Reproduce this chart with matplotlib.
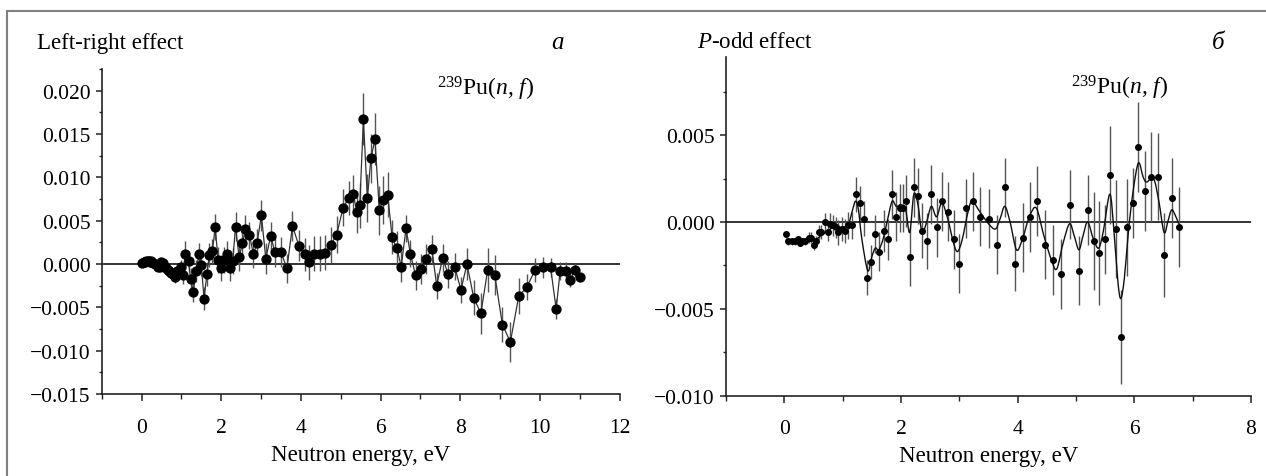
import matplotlib
matplotlib.use("Agg")
import matplotlib.pyplot as plt
from matplotlib.lines import Line2D
from matplotlib.path import Path
from matplotlib.patches import PathPatch
from matplotlib.ticker import MultipleLocator, FuncFormatter

plt.rcParams['font.family'] = ['Liberation Serif', 'DejaVu Serif']
plt.rcParams['mathtext.fontset'] = 'custom'
plt.rcParams['mathtext.rm'] = 'Liberation Serif'
plt.rcParams['mathtext.it'] = 'Liberation Serif:italic'

# ---------------- Left-right effect (panel a) ----------------
lr_E = [0.02, 0.06, 0.09, 0.12, 0.15, 0.18, 0.21, 0.25, 0.30, 0.34, 0.38, 0.42, 0.46,
        0.50, 0.53, 0.58, 0.62, 0.66, 0.70, 0.74, 0.78, 0.82, 0.85, 0.90, 0.98,
        1.03, 1.10, 1.18, 1.23, 1.30, 1.37, 1.44, 1.50, 1.57, 1.64, 1.70, 1.78, 1.85,
        1.92, 2.00, 2.07, 2.15, 2.22, 2.29, 2.36, 2.45, 2.53, 2.61, 2.71, 2.81, 2.90,
        3.01, 3.12, 3.24, 3.35, 3.50, 3.65, 3.79, 3.95, 4.10, 4.21, 4.33, 4.47, 4.61,
        4.75, 4.90, 5.06, 5.20, 5.32, 5.40, 5.48, 5.57, 5.67, 5.76, 5.86, 5.97, 6.07,
        6.18, 6.29, 6.41, 6.52, 6.64, 6.75, 6.88, 7.01, 7.14, 7.29, 7.41, 7.56, 7.70,
        7.86, 8.02, 8.17, 8.34, 8.52, 8.69, 8.87, 9.06, 9.26, 9.47, 9.67, 9.88, 10.09,
        10.27, 10.41, 10.51, 10.65, 10.76, 10.88, 11.01]
lr_A = [0.0001, 0.0002, 0.0002, 0.0003, 0.0003, 0.0003, 0.0002, 0.0003, 0.0001, 0.0000,
        -0.0001, -0.0003, -0.0004, 0.0002, 0.0001, -0.0003, -0.0005, -0.0007, -0.0008,
        -0.0010, -0.0012, -0.0011, -0.0015, -0.0008, -0.0003,
        -0.0013, 0.0012, 0.0003, -0.0017, -0.0032, -0.0008, 0.0011, -0.0001, -0.0040,
        -0.0012, 0.0010, 0.0015, 0.0043, 0.0005, -0.0005, 0.0005, 0.0012, -0.0005,
        0.0004, 0.0043, 0.0008, 0.0024, 0.0040, 0.0033, 0.0011, 0.0024, 0.0056, 0.0006,
        0.0032, 0.0014, 0.0014, -0.0005, 0.0044, 0.0021, 0.0011, 0.0002, 0.0012, 0.0012,
        0.0013, 0.0022, 0.0034, 0.0065, 0.0076, 0.0081, 0.0060, 0.0068, 0.0167, 0.0076,
        0.0122, 0.0144, 0.0062, 0.0074, 0.0080, 0.0031, 0.0018, -0.0003, 0.0041, 0.0012,
        -0.0013, -0.0006, 0.0006, 0.0017, -0.0025, 0.0007, -0.0012, -0.0003, -0.0030,
        0.0000, -0.0039, -0.0057, -0.0007, -0.0013, -0.0070, -0.0090, -0.0037, -0.0027,
        -0.0007, -0.0004, -0.0004, -0.0052, -0.0008, -0.0008, -0.0018, -0.0007, -0.0015]
lr_err = [0.0003, 0.0003, 0.0003, 0.0003, 0.0003, 0.0003, 0.0003, 0.0003, 0.0003, 0.0003,
          0.0003, 0.0003, 0.0004, 0.0004, 0.0004, 0.0004, 0.0005, 0.0005, 0.0005, 0.0006,
          0.0006, 0.0006, 0.0007, 0.0008, 0.0008,
          0.0010, 0.0014, 0.0012, 0.0012, 0.0012, 0.0013, 0.0013, 0.0013, 0.0013, 0.0013,
          0.0014, 0.0014, 0.0015, 0.0015, 0.0015, 0.0015, 0.0015, 0.0015, 0.0015, 0.0017,
          0.0016, 0.0016, 0.0017, 0.0016, 0.0016, 0.0016, 0.0018, 0.0018, 0.0017, 0.0017,
          0.0017, 0.0017, 0.0017, 0.0018, 0.0019, 0.0020, 0.0020, 0.0020, 0.0020, 0.0021,
          0.0021, 0.0021, 0.0020, 0.0022, 0.0024, 0.0026, 0.0030, 0.0028, 0.0028, 0.0030,
          0.0028, 0.0028, 0.0026, 0.0020, 0.0020, 0.0018, 0.0016, 0.0016, 0.0017, 0.0017,
          0.0017, 0.0016, 0.0015, 0.0016, 0.0016, 0.0016, 0.0015, 0.0018, 0.0020, 0.0024,
          0.0025, 0.0023, 0.0020, 0.0023, 0.0021, 0.0015, 0.0014, 0.0012, 0.0011, 0.0012,
          0.0010, 0.0010, 0.0009, 0.0008, 0.0005]

# ---------------- P-odd effect (panel b) ----------------
po_E = [0.02, 0.07, 0.13, 0.19, 0.23, 0.27, 0.31, 0.36, 0.42, 0.46, 0.50, 0.54, 0.59,
        0.63, 0.69, 0.74, 0.78, 0.83, 0.88, 0.92, 0.98, 1.04, 1.09, 1.16, 1.22, 1.29,
        1.36, 1.42, 1.49, 1.56, 1.63, 1.70, 1.77, 1.85, 1.92, 1.99, 2.03, 2.08, 2.15,
        2.22, 2.29, 2.36, 2.44, 2.52, 2.61, 2.70, 2.80, 2.90, 3.00, 3.11, 3.23, 3.36,
        3.50, 3.64, 3.79, 3.95, 4.09, 4.21, 4.33, 4.47, 4.60, 4.74, 4.89, 5.05, 5.20,
        5.30, 5.40, 5.49, 5.58, 5.68, 5.77, 5.87, 5.97, 6.07, 6.18, 6.28, 6.40, 6.51,
        6.64, 6.76]
po_A = [-0.0007, -0.0011, -0.0011, -0.0011, -0.0010, -0.0012, -0.0011, -0.0011, -0.0009,
        -0.0009, -0.0013, -0.0011, -0.0006, -0.0006, 0.0000, -0.0006, -0.0001, -0.0002,
        -0.0003, -0.0006, -0.0004, -0.0005, -0.0002, -0.0002, 0.0016, 0.0011, 0.0002,
        -0.0032, -0.0023, -0.0007, -0.0017, -0.0005, -0.0010, 0.0016, 0.0003, 0.0008,
        0.0008, 0.0012, -0.0020, 0.0020, 0.0015, -0.0005, -0.0011, 0.0016, -0.0003,
        0.0012, 0.0006, -0.0010, -0.0024, 0.0008, 0.0012, 0.0003, 0.0002, -0.0013,
        0.0020, -0.0024, -0.0009, 0.0003, 0.0012, -0.0013, -0.0022, -0.0030, 0.0010,
        -0.0028, 0.0007, -0.0011, -0.0018, -0.0010, 0.0027, -0.0004, -0.0066, -0.0003,
        0.0011, 0.0043, 0.0018, 0.0026, 0.0026, -0.0019, 0.0014, -0.0003]
po_err = [0.0002, 0.0002, 0.0002, 0.0002, 0.0002, 0.0002, 0.0002, 0.0002, 0.0003, 0.0003,
          0.0003, 0.0003, 0.0004, 0.0004, 0.0005, 0.0005, 0.0006, 0.0006, 0.0006, 0.0007,
          0.0007, 0.0007, 0.0008, 0.0008, 0.0010, 0.0010, 0.0010, 0.0010, 0.0010, 0.0011,
          0.0011, 0.0012, 0.0012, 0.0014, 0.0014, 0.0014, 0.0014, 0.0015, 0.0017, 0.0017,
          0.0016, 0.0016, 0.0016, 0.0017, 0.0017, 0.0017, 0.0017, 0.0017, 0.0017, 0.0017,
          0.0017, 0.0017, 0.0017, 0.0017, 0.0017, 0.0016, 0.0020, 0.0020, 0.0020, 0.0020,
          0.0020, 0.0020, 0.0020, 0.0020, 0.0020, 0.0028, 0.0030, 0.0020, 0.0028, 0.0028,
          0.0027, 0.0028, 0.0020, 0.0026, 0.0023, 0.0026, 0.0025, 0.0024, 0.0023, 0.0023]

# smooth fit curve of panel b, read at its knots (extrema / turning points)
fit_E = [0.55, 0.70, 0.85, 1.00, 1.10, 1.17, 1.22, 1.27, 1.33, 1.43, 1.50, 1.56, 1.62,
         1.70, 1.78, 1.85, 1.92, 2.00, 2.08, 2.15, 2.22, 2.29, 2.36, 2.44, 2.52, 2.61,
         2.70, 2.80, 2.90, 2.97, 3.05, 3.15, 3.22, 3.35, 3.50, 3.62, 3.70, 3.78, 3.87,
         3.98, 4.08, 4.20, 4.32, 4.45, 4.58, 4.67, 4.78, 4.89, 4.97, 5.05, 5.12, 5.20,
         5.30, 5.39, 5.47, 5.58, 5.65, 5.72, 5.77, 5.83, 5.90, 5.98, 6.07, 6.15, 6.21,
         6.33, 6.42, 6.51, 6.58, 6.64, 6.70, 6.76]
fit_A = [-0.0010, -0.0006, -0.0003, -0.0003, -0.0001, 0.0007, 0.0012, 0.0007, -0.0010,
         -0.0028, -0.0020, -0.0015, -0.0016, -0.0009, 0.0003, 0.0012, 0.0009, 0.0010,
         0.0007, -0.0006, 0.0016, 0.0010, -0.0006, 0.0000, 0.0009, 0.0003, 0.0011,
         0.0002, -0.0012, -0.0017, -0.0010, 0.0006, 0.0012, 0.0006, -0.0001, -0.0004,
         0.0002, 0.0009, 0.0000, -0.0016, -0.0010, 0.0003, 0.0008, -0.0008, -0.0022,
         -0.0027, -0.0012, -0.0001, -0.0008, -0.0016, -0.0008, 0.0000, -0.0010, -0.0015,
         -0.0005, 0.0016, -0.0005, -0.0035, -0.0044, -0.0032, -0.0005, 0.0018, 0.0034,
         0.0026, 0.0023, 0.0025, 0.0012, -0.0006, 0.0001, 0.0007, 0.0004, -0.0001]

W, H = 1266, 477
fig = plt.figure(figsize=(W / 100, H / 100), dpi=100)


def fx(px):
    return px / W


def fy(py):
    return 1 - py / H


ax1 = fig.add_axes([fx(101.7), fy(395), fx(619.5) - fx(101.7), fy(70) - fy(395)])
ax2 = fig.add_axes([fx(726), fy(396.7), fx(1251) - fx(726), fy(58) - fy(396.7)])

TICK_FS = 15.5
LABEL_FS = 16.5
minus_fmt = FuncFormatter(lambda v, p: ('%.3f' % v).replace('-', '\u2212')
                          if abs(v) > 1e-12 else '0.000')

for ax in (ax1, ax2):
    for s in ('top', 'right'):
        ax.spines[s].set_visible(False)
    for s in ('left', 'bottom'):
        ax.spines[s].set_linewidth(1.2)
        ax.spines[s].set_color('#222222')
    ax.axhline(0, color='#111111', lw=1.2, zorder=1)
    ax.xaxis.set_major_locator(MultipleLocator(2))
    ax.xaxis.set_minor_locator(MultipleLocator(1))
    ax.yaxis.set_major_locator(MultipleLocator(0.005))
    ax.yaxis.set_minor_locator(MultipleLocator(0.0025))
    ax.yaxis.set_major_formatter(minus_fmt)
    ax.tick_params(axis='x', which='major', direction='out', length=5, width=1.1,
                   pad=12, labelsize=TICK_FS, color='#222222')
    ax.tick_params(axis='x', which='minor', direction='out', length=3.5, width=1.0,
                   color='#222222')
    ax.tick_params(axis='y', which='major', direction='out', length=4, width=1.1,
                   pad=4, labelsize=TICK_FS, color='#222222')
    ax.tick_params(axis='y', which='minor', direction='out', length=2.5, width=1.0,
                   color='#222222')
    ax.set_xlabel('Neutron energy, eV', fontsize=LABEL_FS, labelpad=5)

# Panel a
ax1.set_xlim(-1, 12)
ax1.set_ylim(-0.015, 0.0225)
ax1.errorbar(lr_E, lr_A, yerr=lr_err, fmt='none', ecolor='#555555', elinewidth=1.0,
             capsize=0, zorder=2)
ax1.plot(lr_E, lr_A, color='#333333', lw=0.9, zorder=3)
ax1.plot(lr_E, lr_A, 'o', color='black', ms=6.4, mec='black', zorder=4)
ax1.text(8.65, 0.0203, r'$^{239}$Pu($\mathit{n}$, $\mathit{f}$)', fontsize=17,
         ha='center', va='center')

# Panel b
ax2.set_xlim(-1, 8)
ax2.set_ylim(-0.010, 0.0095)
ax2.errorbar(po_E, po_A, yerr=po_err, fmt='none', ecolor='#555555', elinewidth=1.0,
             capsize=0, zorder=2)
# smooth curve through the read knots (Catmull-Rom rendered as cubic Bezier path)
verts = [(fit_E[0], fit_A[0])]
codes = [Path.MOVETO]
n = len(fit_E)
for i in range(n - 1):
    p0 = (fit_E[max(i - 1, 0)], fit_A[max(i - 1, 0)])
    p1 = (fit_E[i], fit_A[i])
    p2 = (fit_E[i + 1], fit_A[i + 1])
    p3 = (fit_E[min(i + 2, n - 1)], fit_A[min(i + 2, n - 1)])
    c1 = (p1[0] + (p2[0] - p0[0]) / 6, p1[1] + (p2[1] - p0[1]) / 6)
    c2 = (p2[0] - (p3[0] - p1[0]) / 6, p2[1] - (p3[1] - p1[1]) / 6)
    verts += [c1, c2, p2]
    codes += [Path.CURVE4] * 3
ax2.add_patch(PathPatch(Path(verts, codes), facecolor='none', edgecolor='#111111',
                        lw=1.0, zorder=3))
ax2.plot(po_E, po_A, 'o', color='black', ms=4.0, mec='black', zorder=4)
ax2.text(5.75, 0.0078, r'$^{239}$Pu($\mathit{n}$, $\mathit{f}$)', fontsize=17,
         ha='center', va='center')

# Panel titles and letters
TITLE_FS = 16.5
TY = 43
fig.text(fx(37), fy(TY), 'Left-right effect', fontsize=TITLE_FS, ha='left', va='center')
fig.text(fx(557), fy(TY), 'a', fontsize=18, style='italic', ha='center', va='center')
fig.text(fx(697), fy(TY), r'$\mathit{P}$-odd effect', fontsize=TITLE_FS, ha='left',
         va='center')
fig.text(fx(1218), fy(TY), 'б', fontsize=18, style='italic', ha='center', va='center')

# Outer frame lines (gray)
fig.add_artist(Line2D([fx(7), 1.0], [fy(12), fy(12)], color='#808080', lw=1.5,
                      transform=fig.transFigure))
fig.add_artist(Line2D([fx(7), fx(7)], [fy(12), 0.0], color='#808080', lw=1.5,
                      transform=fig.transFigure))

fig.savefig('out.png', dpi=100)
